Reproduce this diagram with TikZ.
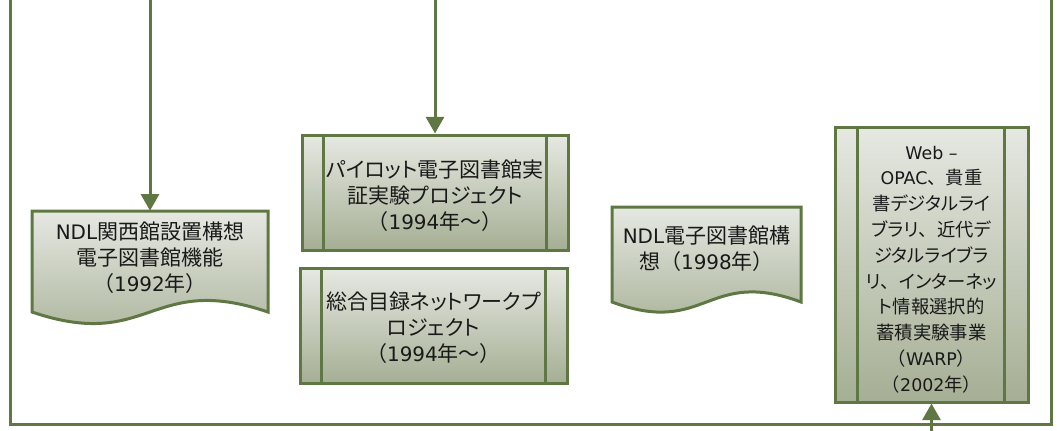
\documentclass[tikz,border=0pt]{standalone}
\usepackage{fontspec}
\newfontfamily\jp[RawFeature=+palt]{Noto Sans CJK JP}
\newfontfamily\jpf{Noto Sans CJK JP}
\newfontfamily\lat{DejaVu Sans}
\newcommand\LP{{\jpf （}}
\newcommand\RP{{\jpf ）}}
\newcommand\TC{{\jpf 、}}
\newcommand\La[1]{{\lat\addfontfeatures{Scale=0.95}#1}}
\usetikzlibrary{arrows.meta}
\definecolor{olv}{HTML}{5F7843}
\definecolor{ftop}{HTML}{E6E8E2}
\definecolor{fbot}{HTML}{A5AF94}
\begin{document}
\begin{tikzpicture}[x=0.75pt,y=-0.75pt,
  line/.style={draw=olv,line width=2.25pt},
  arr/.style={line,-{Triangle[length=12.5pt,width=13.5pt]}},
  boxfill/.style={top color=ftop,bottom color=fbot,draw=olv,line width=2.25pt},
  pbox/.style={boxfill,inner sep=0pt},
  hold/.style={inner sep=0pt,draw=none},
  txt/.style={inner sep=0pt,align=center,text=black!90},
  big/.style={font=\jp\fontsize{15.75}{19.5}\selectfont},
  small/.style={font=\jp\fontsize{13.75}{19.35}\selectfont}]
\useasboundingbox (0,0) rectangle (1061,430);
\clip (0,0) rectangle (1061,430);

% outer frame
\draw[line] (10,-10) -- (10,424) -- (1051,424) -- (1051,-10);

% document shape 1
\path[boxfill] (32,211) -- (268,211) -- (268,312)
  .. controls (150,272) and (150,352) .. (32,312) -- cycle;
\node[hold,minimum width=177pt,minimum height=75.75pt] (b1) at (150,261.5) {};
\node[txt,big] (t1) at (150,258)
  {\La{NDL}関西館設置構想\\電子図書館機能\\\LP\La{1992}年\RP};

% predefined process 2
\node[pbox,minimum width=199.5pt,minimum height=86.25pt] (b2) at (435,192.5) {};
\draw[line] ([xshift=17.25pt]b2.north west) -- ([xshift=17.25pt]b2.south west);
\draw[line] ([xshift=-17.25pt]b2.north east) -- ([xshift=-17.25pt]b2.south east);
\node[txt,big] (t2) at (435,195.5)
  {パイロット電子図書館実\\証実験プロジェクト\\\LP\La{1994}年～\RP};

% predefined process 3
\node[pbox,minimum width=200.25pt,minimum height=86.25pt] (b3) at (433.5,325.5) {};
\draw[line] ([xshift=17.25pt]b3.north west) -- ([xshift=17.25pt]b3.south west);
\draw[line] ([xshift=-17.25pt]b3.north east) -- ([xshift=-17.25pt]b3.south east);
\node[txt,big] (t3) at (433.5,327.5)
  {総合目録ネットワークプ\\ロジェクト\\\LP\La{1994}年～\RP};

% document shape 4
\path[boxfill] (612,207) -- (801,207) -- (801,302)
  .. controls (706.5,267) and (706.5,337) .. (612,302) -- cycle;
\node[hold,minimum width=141.75pt,minimum height=71.25pt] (b4) at (706.5,254.5) {};
\node[txt,big] (t4) at (706.5,249)
  {\La{NDL}電子図書館構\\想\LP\La{1998}年\RP};

% predefined process 5
\node[pbox,minimum width=144.75pt,minimum height=206.25pt] (b5) at (931.5,264.5) {};
\draw[line] ([xshift=18pt]b5.north west) -- ([xshift=18pt]b5.south west);
\draw[line] ([xshift=-18.75pt]b5.north east) -- ([xshift=-18.75pt]b5.south east);
\node[txt,small] (t5) at (931.5,269.5)
  {\La{Web –}\\\La{OPAC}\TC 貴重\\書デジタルライ\\ブラリ\TC 近代デ\\ジタルライブラ\\リ\TC インターネッ\\ト情報選択的\\蓄積実験事業\\\LP\La{WARP}\RP\\\LP\La{2002}年\RP};

% connectors
\coordinate (s1) at (150,-5);
\coordinate (s2) at (435,-5);
\coordinate (s5) at (931.5,440);
\draw[arr] (s1) -- (b1.north);
\draw[arr] (s2) -- (b2.north);
\draw[arr] (s5) -- (b5.south);
\end{tikzpicture}
\end{document}
